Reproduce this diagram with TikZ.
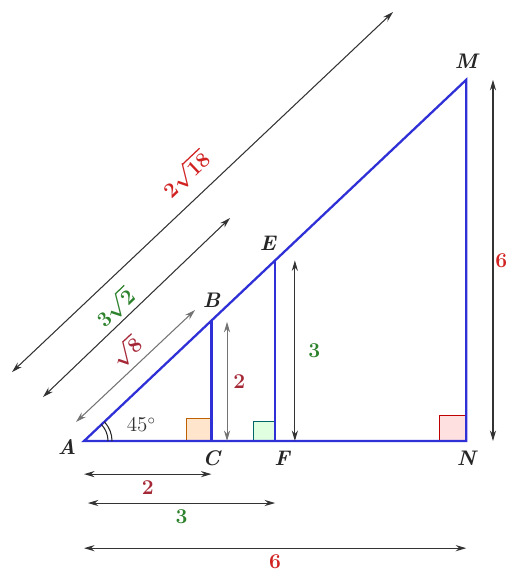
\documentclass[tikz,border=0pt]{standalone}
\usepackage{amsmath, amssymb}
\usepackage{xcolor}
\usepackage{tikz}
\usetikzlibrary{arrows.meta, positioning, calc}

\definecolor{lineblue}{RGB}{48,48,215}
\definecolor{darkred}{RGB}{165,40,55}
\definecolor{dimgreen}{RGB}{45,130,45}
\definecolor{brightred}{RGB}{210,35,35}

\begin{document}
\begin{tikzpicture}[x=1.274cm, y=1.204cm,
    side/.style={lineblue, line width=1.3pt},
    dim/.style={black!80, line width=0.6pt, {Stealth[length=6pt, width=3.5pt]}-{Stealth[length=6pt, width=3.5pt]}},
    pt/.style={font=\large\bfseries\itshape, text=black!85},
    num/.style={font=\large\bfseries\boldmath}]
    \useasboundingbox (-1.319,-2.292) rectangle (6.719,7.326);

    % 顶点
    \coordinate (A) at (0,0);
    \coordinate (C) at (2,0);
    \coordinate (B) at (2,2);
    \coordinate (F) at (3,0);
    \coordinate (E) at (3,3);
    \coordinate (N) at (6,0);
    \coordinate (M) at (6,6);

    % 直角标记
    \filldraw[draw=orange!75!black, fill=orange!20] (C) rectangle ++(-0.4,0.38);
    \filldraw[draw=teal!80!black, fill=green!12] (F) rectangle ++(-0.34,0.33);
    \filldraw[draw=red!75!black, fill=red!12] (N) rectangle ++(-0.42,0.42);

    % 三角形
    \draw[side] (A) -- (N) -- (M) -- cycle;
    \draw[side] (B) -- (C);
    \draw[side] (E) -- (F);

    % 角 45°
    \draw[black!85, line width=0.6pt] ([shift={(0:0.48cm)}]A) arc[start angle=0, end angle=43.4, radius=0.48cm];
    \draw[black!85, line width=0.6pt] ([shift={(0:0.56cm)}]A) arc[start angle=0, end angle=43.4, radius=0.56cm];
    \node[font=\large, text=black!80] (ang) at (0.9,0.27) {$45^\circ$};

    % 点的名称
    \node[pt, left=1pt] (lA) at ($(A)+(0,-0.1)$) {A};
    \node[pt, above=4pt] (lB) at (B) {B};
    \node[pt, below=2pt] (lC) at (C) {C};
    \node[pt, above left=2pt and -4pt] (lE) at (E) {E};
    \node[pt, below right=2pt and -4pt] (lF) at (F) {F};
    \node[pt, above=3pt] (lM) at (M) {M};
    \node[pt, below=2pt] (lN) at (N) {N};

    % 竖直方向的长度
    \coordinate (v2a) at (2.245,0);
    \coordinate (v2b) at (2.245,1.98);
    \coordinate (v3a) at (3.31,0);
    \coordinate (v3b) at (3.31,3);
    \coordinate (v6a) at (6.42,0);
    \coordinate (v6b) at (6.42,6);
    \draw[dim, black!55] (v2a) -- (v2b) node[num, midway, right, darkred] (t2v) {2};
    \draw[dim] (v3a) -- (v3b) node[num, midway, right=4pt, dimgreen] (t3v) {3};
    \draw[dim] (v6a) -- (v6b) node[num, midway, right=0pt, inner sep=1pt, brightred] (t6v) {6};

    % 水平方向的长度
    \coordinate (h2a) at (0,-0.55);
    \coordinate (h2b) at (2,-0.55);
    \coordinate (h3a) at (0.06,-1.03);
    \coordinate (h3b) at (3,-1.03);
    \coordinate (h6a) at (0,-1.78);
    \coordinate (h6b) at (6,-1.78);
    \draw[dim] (h2a) -- (h2b) node[num, midway, below, darkred] (t2h) {2};
    \draw[dim] (h3a) -- (h3b) node[num, midway, below, dimgreen] (t3h) {3};
    \draw[dim] (h6a) -- (h6b) node[num, midway, below, brightred] (t6h) {6};

    % 斜边方向的长度
    \coordinate (d8a) at (-0.126,0.316);
    \coordinate (d8b) at (1.743,2.176);
    \coordinate (d18a) at (-0.644,0.731);
    \coordinate (d18b) at (2.292,3.704);
    \coordinate (d72a) at (-1.130,1.146);
    \coordinate (d72b) at (4.851,7.126);
    \draw[dim, black!55] (d8a) -- (d8b) node[num, pos=0.52, sloped, above=2pt, inner sep=1pt, darkred] (t8) {$\sqrt{8}$};
    \draw[dim] (d18a) -- (d18b) node[num, pos=0.44, sloped, above=1pt, inner sep=1pt, dimgreen] (t18) {$3\sqrt{2}$};
    \draw[dim] (d72a) -- (d72b) node[num, midway, sloped, above=4pt, brightred] (t72) {$2\sqrt{18}$};
\end{tikzpicture}
\end{document}
